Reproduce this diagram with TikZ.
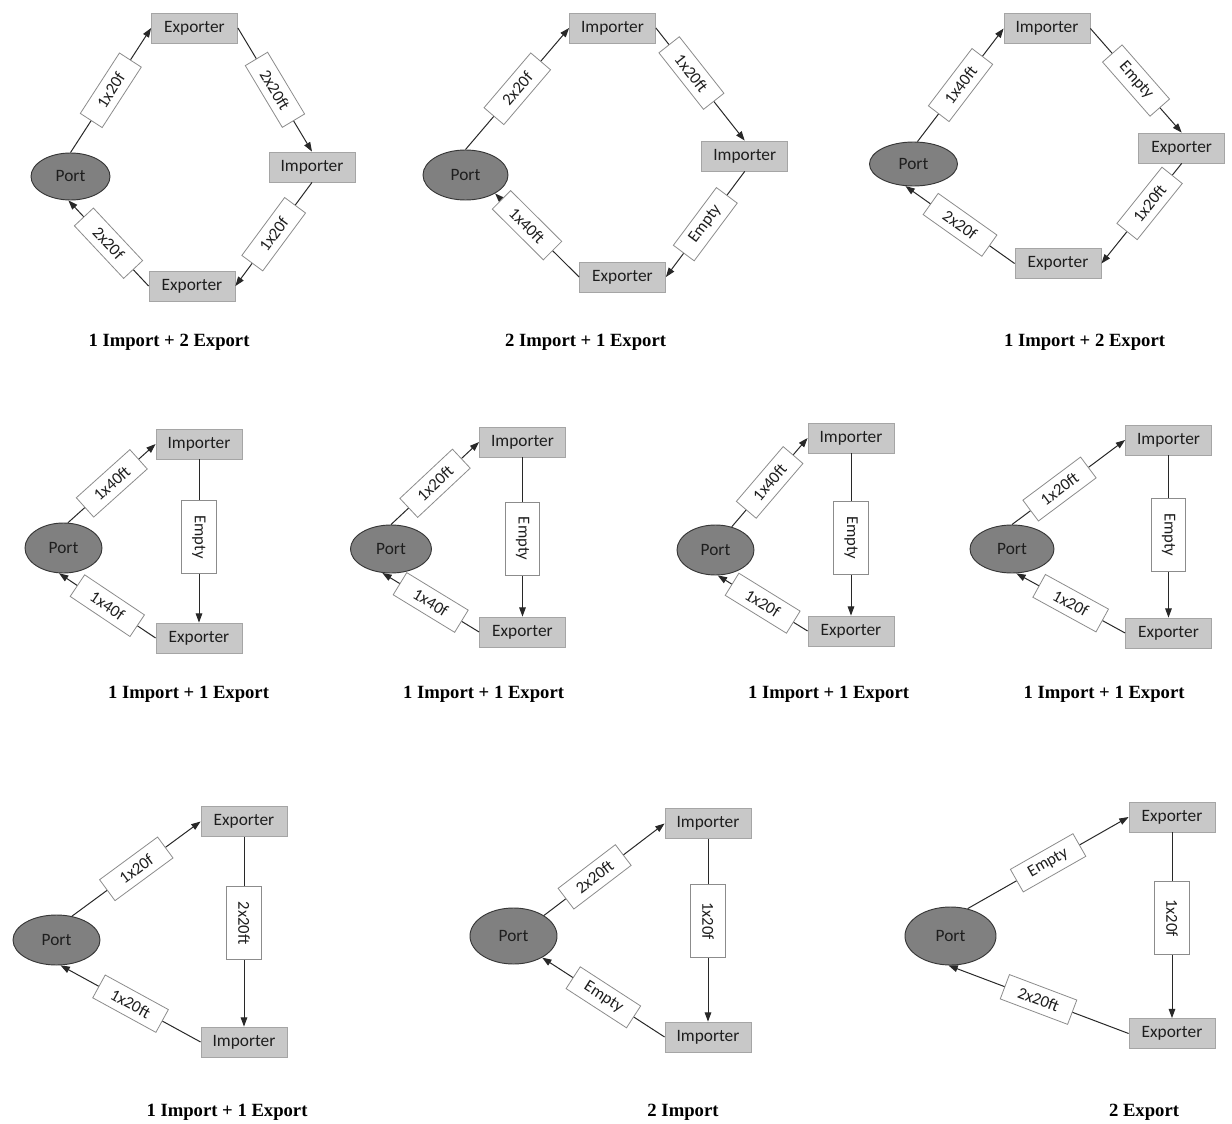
\documentclass[tikz,border=0pt]{standalone}
\usepackage{fontspec}
\setmainfont{Carlito}
\newfontfamily\capfont{Liberation Serif}
\usetikzlibrary{shapes.geometric,arrows.meta}
\definecolor{actfill}{RGB}{200,200,200}
\definecolor{actdraw}{RGB}{165,165,165}
\definecolor{portfill}{RGB}{128,128,128}
\definecolor{portdraw}{RGB}{55,55,55}
\definecolor{txtcol}{RGB}{30,30,30}
\definecolor{lbldraw}{RGB}{140,140,140}
\definecolor{edgecol}{RGB}{40,40,40}
\begin{document}
\begin{tikzpicture}[x=0.75pt,y=-0.75pt,
  actor/.style={rectangle, fill=actfill, draw=actdraw, line width=0.6pt,
    minimum width=64.5pt, minimum height=22.5pt, inner sep=0pt,
    font=\fontsize{13}{15}\selectfont, text=txtcol},
  port/.style={ellipse, fill=portfill, draw=portdraw, line width=0.7pt,
    inner sep=0pt, font=\fontsize{13}{15}\selectfont, text=txtcol},
  lbl/.style={rectangle, fill=white, draw=lbldraw, line width=0.6pt,
    minimum width=54pt, minimum height=19.5pt, inner sep=1pt,
    font=\fontsize{12.5}{14}\selectfont, text=txtcol, sloped, pos=0.5},
  vlbl/.style={rectangle, fill=white, draw=lbldraw, line width=0.6pt,
    minimum width=54.75pt, minimum height=26pt, inner sep=1pt,
    font=\fontsize{12.5}{14}\selectfont, text=txtcol, rotate=-90},
  flow/.style={draw=edgecol, line width=0.75pt, -{Triangle[length=7pt,width=5pt]}},
  captxt/.style={font=\capfont\bfseries\fontsize{14}{16}\selectfont, text=black, inner sep=0pt}
]
\fill[white] (0,0) rectangle (1232,1124);
\useasboundingbox (0,0) rectangle (1232,1124);

% ---------- Panel 1 ----------
\node[port, minimum width=59.25pt, minimum height=35.25pt] (p1) at (70.5,176.5) {Port};
\node[actor] (p1a) at (194.5,28) {Exporter};
\node[actor] (p1b) at (312,167) {Importer};
\node[actor] (p1c) at (192,286) {Exporter};
\draw[flow] (p1.north) -- node[lbl] (l1a) {1x20f} (p1a.west);
\draw[flow] (p1a.east) -- node[lbl] (l1b) {2x20ft} (p1b.north);
\draw[flow] (p1b.south) -- node[lbl] (l1c) {1x20f} (p1c.east);
\draw[flow] (p1c.west) -- node[lbl] (l1d) {2x20f} (p1.-95);
\node[captxt] (c1) at (169,342) {1 Import + 2 Export};

% ---------- Panel 2 ----------
\node[port, minimum width=63.75pt, minimum height=37.5pt] (p2) at (465.5,175) {Port};
\node[actor] (p2a) at (612.5,28) {Importer};
\node[actor] (p2b) at (744.7,156) {Importer};
\node[actor] (p2c) at (622.5,277) {Exporter};
\draw[flow] (p2.north) -- node[lbl] (l2a) {2x20f} (p2a.west);
\draw[flow] (p2a.east) -- node[lbl, pos=0.4] (l2b) {1x20ft} (p2b.north);
\draw[flow] (p2b.south) -- node[lbl] (l2c) {Empty} (p2c.east);
\draw[flow] (p2c.west) -- node[lbl, pos=0.62] (l2d) {1x40ft} (p2.-32);
\node[captxt] (c2) at (585.5,342) {2 Import + 1 Export};

% ---------- Panel 3 ----------
\node[port, minimum width=66pt, minimum height=33pt] (p3) at (913.5,164) {Port};
\node[actor] (p3a) at (1047,28.5) {Importer};
\node[actor] (p3b) at (1181.7,148) {Exporter};
\node[actor] (p3c) at (1058,263.5) {Exporter};
\draw[flow] (p3.80) -- node[lbl] (l3a) {1x40ft} (p3a.west);
\draw[flow] (p3a.east) -- node[lbl] (l3b) {Empty} (p3b.north);
\draw[flow] (p3b.south) -- node[lbl, pos=0.4] (l3c) {1x20ft} (p3c.east);
\draw[flow] (p3c.west) -- node[lbl] (l3d) {2x20f} (p3.-110);
\node[captxt] (c3) at (1084.5,342) {1 Import + 2 Export};

% ---------- Panel 4 ----------
\node[port, minimum width=57.75pt, minimum height=37.5pt] (p4) at (63.5,548) {Port};
\node[actor] (p4a) at (199,444) {Importer};
\node[actor] (p4b) at (199,638) {Exporter};
\draw[flow] (p4.80) -- node[lbl] (l4a) {1x40ft} (p4a.west);
\draw[flow] (p4a.south) -- node[vlbl, pos=0.475] (l4b) {Empty} (p4b.north);
\draw[flow] (p4b.west) -- node[lbl] (l4c) {1x40f} (p4.-100);
\node[captxt] (c4) at (188.5,694) {1 Import + 1 Export};

% ---------- Panel 5 ----------
\node[port, minimum width=60.75pt, minimum height=36pt] (p5) at (391,549) {Port};
\node[actor] (p5a) at (522.5,442) {Importer};
\node[actor] (p5b) at (522.5,632) {Exporter};
\draw[flow] (p5.north) -- node[lbl] (l5a) {1x20ft} (p5a.west);
\draw[flow] (p5a.south) -- node[vlbl, pos=0.51] (l5b) {Empty} (p5b.north);
\draw[flow] (p5b.west) -- node[lbl] (l5c) {1x40f} (p5.-110);
\node[captxt] (c5) at (483.5,694) {1 Import + 1 Export};

% ---------- Panel 6 ----------
\node[port, minimum width=57.75pt, minimum height=37.5pt] (p6) at (715.5,550) {Port};
\node[actor] (p6a) at (851,438) {Importer};
\node[actor] (p6b) at (851,631) {Exporter};
\draw[flow] (p6.55) -- node[lbl] (l6a) {1x40ft} (p6a.west);
\draw[flow] (p6a.south) -- node[vlbl, pos=0.52] (l6b) {Empty} (p6b.north);
\draw[flow] (p6b.west) -- node[lbl] (l6c) {1x20f} (p6.-85);
\node[captxt] (c6) at (828.5,694) {1 Import + 1 Export};

% ---------- Panel 7 ----------
\node[port, minimum width=63pt, minimum height=36pt] (p7) at (1012,549) {Port};
\node[actor] (p7a) at (1168.5,440) {Importer};
\node[actor] (p7b) at (1168.5,633) {Exporter};
\draw[flow] (p7.north) -- node[lbl, pos=0.42] (l7a) {1x20ft} (p7a.west);
\draw[flow] (p7a.south) -- node[vlbl, pos=0.49] (l7b) {Empty} (p7b.north);
\draw[flow] (p7b.west) -- node[lbl] (l7c) {1x20f} (p7.-80);
\node[captxt] (c7) at (1104,694) {1 Import + 1 Export};

% ---------- Panel 8 ----------
\node[port, minimum width=65.25pt, minimum height=37.5pt] (p8) at (56.5,940) {Port};
\node[actor] (p8a) at (244,821.5) {Exporter};
\node[actor] (p8b) at (244,1042) {Importer};
\draw[flow] (p8.57) -- node[lbl] (l8a) {1x20f} (p8a.west);
\draw[flow] (p8a.south) -- node[vlbl, pos=0.455] (l8b) {2x20ft} (p8b.north);
\draw[flow] (p8b.west) -- node[lbl] (l8c) {1x20ft} (p8.-81);
\node[captxt] (c8) at (227,1112) {1 Import + 1 Export};

% ---------- Panel 9 ----------
\node[port, minimum width=65.25pt, minimum height=42pt] (p9) at (513.5,936) {Port};
\node[actor] (p9a) at (708,823.5) {Importer};
\node[actor] (p9b) at (708,1037) {Importer};
\draw[flow] (p9.34) -- node[lbl, pos=0.42] (l9a) {2x20ft} (p9a.west);
\draw[flow] (p9a.south) -- node[vlbl, pos=0.45] (l9b) {1x20f} (p9b.north);
\draw[flow] (p9b.west) -- node[lbl] (l9c) {Empty} (p9.-37);
\node[captxt] (c9) at (683,1112) {2 Import};

% ---------- Panel 10 ----------
\node[port, minimum width=68.25pt, minimum height=43.5pt] (p10) at (950.5,936) {Port};
\node[actor] (p10a) at (1172,817) {Exporter};
\node[actor] (p10b) at (1172,1033.5) {Exporter};
\draw[flow] (p10.58) -- node[lbl] (l10a) {Empty} (p10a.west);
\draw[flow] (p10a.south) -- node[vlbl, pos=0.46] (l10b) {1x20f} (p10b.north);
\draw[flow] (p10b.west) -- node[lbl] (l10c) {2x20ft} (p10.-94);
\node[captxt] (c10) at (1144,1112) {2 Export};
\end{tikzpicture}
\end{document}
